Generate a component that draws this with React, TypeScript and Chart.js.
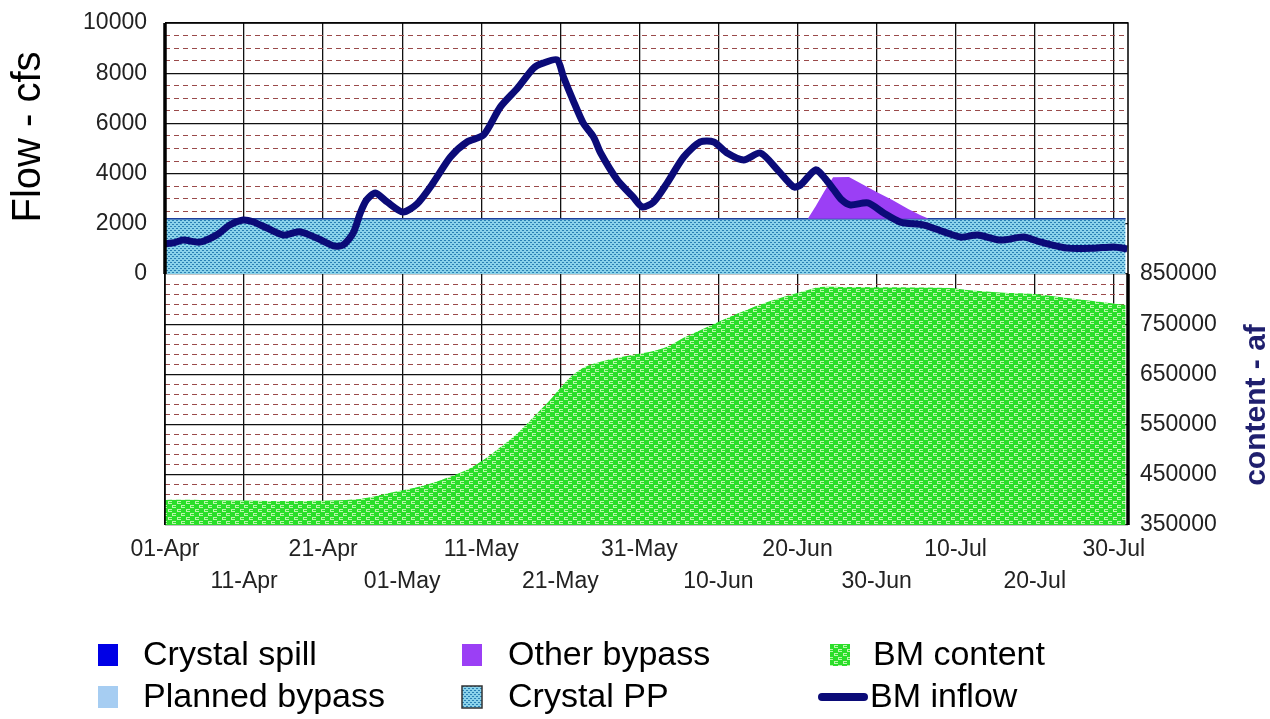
import { useEffect, useRef } from 'react';
import { Chart, registerables } from 'chart.js';

Chart.register(...registerables);

const FONT = '"Liberation Sans", Arial, Helvetica, sans-serif';

// ---- X axis (days since 01-Apr) ----
const xTickDays = [0, 10, 20, 30, 40, 50, 60, 70, 80, 90, 100, 110, 120];
const xTickLabels = ['01-Apr', '11-Apr', '21-Apr', '01-May', '11-May', '21-May', '31-May', '10-Jun', '20-Jun', '30-Jun', '10-Jul', '20-Jul', '30-Jul'];
const xMaxDay = 121.8;

// ---- BM inflow (cfs) ----
const inflowDays = [0, 1.2, 2.3, 4.4, 6.5, 8.2, 9.9, 11.2, 12.9, 15, 17, 19.2, 21.3, 22.5, 23.8, 24.7, 25.5, 26.6, 28.1, 30.1, 31.9, 33.9, 36.1, 38.2, 40.3, 42.4, 44.6, 46.6, 47.8, 49.6, 50.4, 51.6, 52.9, 54.2, 55.1, 57.2, 59.2, 60.4, 61.8, 63.5, 65.6, 67.7, 69.4, 71.1, 73.2, 75.3, 77.5, 79.5, 80.4, 82.3, 83.5, 84.6, 85.6, 86.7, 88.9, 90.9, 93, 96, 98.5, 100.6, 102.8, 105.7, 108.6, 110.8, 114.2, 117.5, 120, 121.7];
const inflowCfs = [1200, 1250, 1350, 1270, 1550, 1950, 2150, 2070, 1830, 1550, 1680, 1430, 1120, 1150, 1630, 2430, 2950, 3230, 2870, 2470, 2800, 3620, 4660, 5260, 5540, 6650, 7410, 8200, 8400, 8530, 7850, 6930, 6010, 5460, 4820, 3750, 3070, 2670, 2870, 3620, 4660, 5260, 5260, 4820, 4540, 4820, 4140, 3470, 3550, 4150, 3800, 3350, 2950, 2750, 2830, 2430, 2070, 1950, 1680, 1470, 1550, 1350, 1470, 1270, 1030, 1030, 1080, 1000];

// ---- BM content (af) ----
const contentDays = [0, 4.4, 17, 24.7, 28.5, 31, 33.9, 38.2, 40.3, 42.4, 44.6, 46.6, 48.7, 50.9, 52.9, 55.1, 57.2, 59.2, 61.4, 63.5, 65.6, 67.7, 69.9, 71.9, 74.1, 76.2, 78.2, 80.4, 82.9, 86.7, 99.4, 101.5, 105.7, 109.9, 114.2, 118.4, 121.5];
const contentAf = [400000, 400000, 398000, 402000, 414000, 422000, 434000, 460000, 480000, 505000, 533000, 565000, 599000, 639000, 663000, 675000, 683000, 689000, 695000, 705000, 723000, 738000, 754000, 768000, 782000, 794000, 804000, 814000, 824000, 824000, 822000, 818000, 813000, 810000, 802000, 794000, 788000];

// ---- Crystal PP (cfs) ----
const ppDays = [0, 121.5];
const ppCfs = [2200, 2200];

// ---- Other bypass (cfs, on top of Crystal PP) ----
const otherDays = [81.3, 82.3, 83.4, 84.5, 86.5, 87.5, 90, 92, 94, 95.5, 96.6];
const otherCfs = [0, 500, 1100, 1650, 1660, 1500, 1070, 750, 390, 150, 0];

// ---- Crystal spill / Planned bypass (cfs) ----
const spillDays = [0, 121.5];
const spillCfs = [0, 0];
const plannedCfs = [0, 0];

// ---- Axis ranges ----
const flowMin = -10000;
const flowMax = 10000;
const flowMajor = 2000;
const flowMinor = 500;
const contentMin = 350000;
const contentMax = 1350000;
const contentMajor = 100000;
const contentMinor = 20000;
const contentLabelMax = 850000;

const COLORS = {
  inflow: '#0b0b78',
  other: '#9b3ff5',
  spill: '#0000e6',
  planned: '#a6cdf2',
  ppBorder: '#1d3f9e',
  gridMajor: '#111111',
  gridMinor: '#9a4a4a',
  text: '#222222',
  rightTitle: '#1f1f6e',
};

function makePattern(w: number, h: number, base: string, markColor: string, marks: number[][]) {
  const c = document.createElement('canvas');
  c.width = w;
  c.height = h;
  const g = c.getContext('2d')!;
  g.fillStyle = base;
  g.fillRect(0, 0, w, h);
  g.fillStyle = markColor;
  marks.forEach(([x, y, mw, mh]) => g.fillRect(x, y, mw, mh));
  return g.createPattern(c, 'repeat')!;
}

const pts = (xs: number[], ys: number[]) => xs.map((x, i) => ({ x, y: ys[i] }));

export default function App() {
  const ref = useRef<HTMLCanvasElement | null>(null);

  useEffect(() => {
    if (!ref.current) return;
    const ppPattern = makePattern(4, 4, '#8ad2ea', '#2a80b4', [[0, 0, 2, 1], [2, 2, 2, 1]]);
    const greenPattern = makePattern(9, 8, '#2ade2a', '#bcf5ac', [
      [1, 1, 4, 1], [1, 1, 1, 3], [1, 3, 4, 1],
      [6, 5, 3, 1], [6, 5, 1, 3], [6, 7, 3, 1], [0, 5, 1, 1], [0, 7, 1, 1],
    ]);

    const legendItems = [
      { label: 'Crystal spill', kind: 'box', fill: COLORS.spill as any },
      { label: 'Planned bypass', kind: 'box', fill: COLORS.planned as any },
      { label: 'Other bypass', kind: 'box', fill: COLORS.other as any },
      { label: 'Crystal PP', kind: 'box', fill: ppPattern as any, stroke: '#333' },
      { label: 'BM content', kind: 'box', fill: greenPattern as any },
      { label: 'BM inflow', kind: 'line', fill: COLORS.inflow as any },
    ];

    const decorPlugin = {
      id: 'decor',
      afterDatasetsDraw(chart: any) {
        const { ctx, chartArea: a, scales } = chart;
        const zeroY = scales.y.getPixelForValue(0);
        ctx.save();
        ctx.strokeStyle = '#000';
        ctx.lineWidth = 1.5;
        ctx.beginPath();
        ctx.moveTo(a.left, a.top);
        ctx.lineTo(a.right, a.top);
        ctx.lineTo(a.right, a.bottom);
        ctx.moveTo(a.left, a.top);
        ctx.lineTo(a.left, a.bottom);
        ctx.stroke();
        ctx.lineWidth = 3.5;
        ctx.beginPath();
        ctx.moveTo(a.left, a.top);
        ctx.lineTo(a.left, zeroY);
        ctx.moveTo(a.right, zeroY);
        ctx.lineTo(a.right, a.bottom);
        ctx.stroke();
        ctx.restore();
      },
      afterDraw(chart: any) {
        const { ctx } = chart;
        ctx.save();
        ctx.fillStyle = '#000';
        ctx.font = `40px ${FONT}`;
        ctx.textAlign = 'center';
        ctx.textBaseline = 'middle';
        ctx.translate(29, 137);
        ctx.rotate(-Math.PI / 2);
        ctx.fillText('Flow - cfs', 0, 0);
        ctx.restore();

        ctx.save();
        ctx.fillStyle = COLORS.rightTitle;
        ctx.font = `bold 30px ${FONT}`;
        ctx.textAlign = 'center';
        ctx.textBaseline = 'middle';
        ctx.translate(1257, 405);
        ctx.rotate(-Math.PI / 2);
        ctx.fillText('content - af', 0, 0);
        ctx.restore();

        // legend (3 columns x 2 rows, column-major)
        const colBox = [98, 462, 830];
        const colText = [143, 508, 873];
        const rowY = [655, 697];
        ctx.save();
        ctx.font = `34px ${FONT}`;
        ctx.textBaseline = 'middle';
        ctx.textAlign = 'left';
        legendItems.forEach((it, i) => {
          const col = Math.floor(i / 2);
          const row = i % 2;
          const y = rowY[row];
          if (it.kind === 'box') {
            ctx.fillStyle = it.fill;
            ctx.fillRect(colBox[col], y - 11, 20, 22);
            if ((it as any).stroke) {
              ctx.strokeStyle = (it as any).stroke;
              ctx.lineWidth = 1.5;
              ctx.strokeRect(colBox[col], y - 11, 20, 22);
            }
          } else {
            ctx.strokeStyle = it.fill;
            ctx.lineWidth = 8;
            ctx.lineCap = 'round';
            ctx.beginPath();
            ctx.moveTo(colBox[col] - 8, y);
            ctx.lineTo(colBox[col] + 34, y);
            ctx.stroke();
          }
          ctx.fillStyle = '#000';
          ctx.fillText(it.label, it.kind === 'line' ? colText[col] - 3 : colText[col], y + 1);
        });
        ctx.restore();
      },
    };

    const chart = new Chart(ref.current, {
      type: 'line',
      data: {
        datasets: [
          {
            label: 'BM inflow',
            data: pts(inflowDays, inflowCfs),
            yAxisID: 'y',
            borderColor: COLORS.inflow,
            borderWidth: 7,
            pointRadius: 0,
            tension: 0.25,
            fill: false,
            order: 0,
          },
          {
            label: 'Other bypass',
            data: pts(otherDays, otherCfs.map((v) => v + ppCfs[0])),
            yAxisID: 'y',
            borderWidth: 0,
            borderColor: COLORS.other,
            backgroundColor: COLORS.other,
            pointRadius: 0,
            tension: 0,
            fill: { value: ppCfs[0] },
            order: 2,
          },
          {
            label: 'Crystal PP',
            data: pts(ppDays, ppCfs),
            yAxisID: 'y',
            borderWidth: 1.5,
            borderColor: COLORS.ppBorder,
            backgroundColor: ppPattern as any,
            pointRadius: 0,
            fill: 'origin',
            order: 3,
          },
          {
            label: 'Crystal spill',
            data: pts(spillDays, spillCfs),
            yAxisID: 'y',
            borderWidth: 0,
            borderColor: COLORS.spill,
            backgroundColor: COLORS.spill,
            pointRadius: 0,
            fill: false,
            order: 4,
          },
          {
            label: 'Planned bypass',
            data: pts(spillDays, plannedCfs),
            yAxisID: 'y',
            borderWidth: 0,
            borderColor: COLORS.planned,
            backgroundColor: COLORS.planned,
            pointRadius: 0,
            fill: false,
            order: 5,
          },
          {
            label: 'BM content',
            data: pts(contentDays, contentAf),
            yAxisID: 'y2',
            borderWidth: 0,
            borderColor: 'rgba(0,0,0,0)',
            backgroundColor: greenPattern as any,
            pointRadius: 0,
            tension: 0.3,
            fill: 'start',
            order: 6,
          },
        ],
      },
      options: {
        responsive: false,
        animation: false,
        devicePixelRatio: 1,
        layout: { padding: { top: 23, left: 0, right: 0, bottom: 0 } },
        plugins: {
          legend: { display: false },
          tooltip: { enabled: false },
          title: { display: false },
        },
        scales: {
          x: {
            type: 'linear',
            min: 0,
            max: xMaxDay,
            afterBuildTicks: (s: any) => {
              s.ticks = xTickDays.map((v) => ({ value: v }));
            },
            afterFit: (s: any) => {
              s.height = 194;
            },
            ticks: {
              autoSkip: false,
              maxRotation: 0,
              minRotation: 0,
              padding: 9,
              color: COLORS.text,
              font: { family: FONT, size: 23, lineHeight: 32 / 23 },
              callback: (_v: any, i: number) => (i % 2 === 0 ? [xTickLabels[i]] : ['', xTickLabels[i]]),
            },
            grid: { color: COLORS.gridMajor, lineWidth: 1.3, drawTicks: false },
            border: { display: false },
          },
          y: {
            position: 'left',
            min: flowMin,
            max: flowMax,
            afterFit: (s: any) => {
              s.width = 165;
            },
            ticks: {
              stepSize: flowMinor,
              autoSkip: false,
              padding: 0,
              color: COLORS.text,
              font: { family: FONT, size: 23 },
              callback: (v: any) => (v >= 0 && v % flowMajor === 0 ? String(v) : ''),
            },
            grid: {
              drawTicks: true,
              tickLength: 18,
              tickColor: 'rgba(0,0,0,0)',
              color: (ctx: any) => {
                const v = ctx.tick ? ctx.tick.value : 0;
                if (v % flowMajor === 0) return COLORS.gridMajor;
                if (v > 0) return COLORS.gridMinor;
                return 'rgba(0,0,0,0)';
              },
              lineWidth: (ctx: any) => {
                const v = ctx.tick ? ctx.tick.value : 0;
                return v % flowMajor === 0 ? 1.3 : 1;
              },
            },
            border: {
              display: false,
              dash: (ctx: any) => {
                const v = ctx.tick ? ctx.tick.value : 0;
                return v % flowMajor === 0 ? [] : [5, 4];
              },
            },
          },
          y2: {
            position: 'right',
            min: contentMin,
            max: contentMax,
            afterFit: (s: any) => {
              s.width = 142;
            },
            ticks: {
              stepSize: contentMinor,
              autoSkip: false,
              padding: 0,
              color: COLORS.text,
              font: { family: FONT, size: 23 },
              callback: (v: any) =>
                v <= contentLabelMax && (v - contentMin) % contentMajor === 0 ? String(v) : '',
            },
            grid: {
              drawTicks: true,
              tickLength: 12,
              tickColor: 'rgba(0,0,0,0)',
              color: (ctx: any) => {
                const v = ctx.tick ? ctx.tick.value : 0;
                if ((v - contentMin) % contentMajor === 0) return 'rgba(0,0,0,0)';
                if (v < contentLabelMax) return COLORS.gridMinor;
                return 'rgba(0,0,0,0)';
              },
              lineWidth: 1,
            },
            border: { display: false, dash: [5, 4] },
          },
        },
      },
      plugins: [decorPlugin],
    } as any);

    return () => chart.destroy();
  }, []);

  return (
    <div style={{ position: 'fixed', left: 0, top: 0, width: 1270, height: 719, background: '#fff' }}>
      <canvas ref={ref} width={1270} height={719} style={{ display: 'block' }} />
    </div>
  );
}
